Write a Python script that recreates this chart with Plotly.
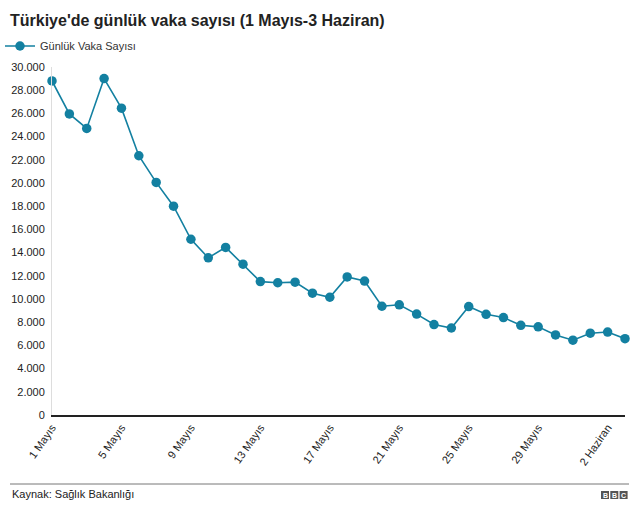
import plotly.graph_objects as go

# Data
dates = [f"{d} Mayıs" for d in range(1, 32)] + [f"{d} Haziran" for d in range(1, 4)]
cases = [28800, 25950, 24700, 29000, 26450, 22350, 20050, 18000, 15150, 13550,
         14450, 13000, 11500, 11400, 11450, 10500, 10150, 11900, 11550, 9375,
         9500, 8700, 7800, 7500, 9350, 8680, 8400, 7730, 7600, 6900,
         6450, 7050, 7150, 6580]
series_name = "Günlük Vaka Sayısı"
title_text = "Türkiye'de günlük vaka sayısı (1 Mayıs-3 Haziran)"
source_text = "Kaynak: Sağlık Bakanlığı"
y_tickvals = list(range(0, 30001, 2000))
y_ticktext = [f"{v:,}".replace(",", ".") for v in y_tickvals]
x_tick_idx = list(range(0, 34, 4))

x = list(range(len(cases)))
color = "#1380A1"
font = "Liberation Sans, Arial, Helvetica, sans-serif"

fig = go.Figure()
fig.add_trace(go.Scatter(
    x=x, y=cases, mode="lines+markers", name=series_name,
    line=dict(color=color, width=1.6),
    marker=dict(color=color, size=9.5),
    cliponaxis=False,
    text=dates, hovertemplate="%{text}: %{y}<extra></extra>",
))

W, H = 640, 513
L, R, T, B = 52, 15, 67, 98
pw = W - L - R
ph = H - T - B

fig.update_layout(
    width=W, height=H,
    margin=dict(l=L, r=R, t=T, b=B, autoexpand=False),
    paper_bgcolor="white", plot_bgcolor="white",
    font=dict(family=font, color="#222222", size=11),
    title=dict(text=f"<b>{title_text}</b>", x=10 / W, xref="container", xanchor="left",
               y=1 - 20 / H, yref="container", yanchor="middle",
               font=dict(size=16, color="#222222", family=font)),
    showlegend=True,
    legend=dict(orientation="h", x=-6 / W, xref="container", xanchor="left",
                y=1 - 46 / H, yref="container", yanchor="middle",
                font=dict(size=11, color="#333333"), itemwidth=30,
                bgcolor="rgba(0,0,0,0)"),
    xaxis=dict(range=[0, len(cases) - 1], tickvals=x_tick_idx,
               ticktext=[dates[i] for i in x_tick_idx], tickangle=-55,
               showgrid=False, zeroline=False, showline=True,
               linecolor="#222222", linewidth=2, ticks="",
               automargin=False,
               tickfont=dict(size=11, color="#222222"), fixedrange=True),
    yaxis=dict(range=[0, 30000], tickvals=y_tickvals, ticktext=y_ticktext,
               showgrid=False, zeroline=False, showline=True,
               linecolor="#dddddd", linewidth=1, ticks="",
               ticklabelstandoff=4, automargin=False,
               tickfont=dict(size=11, color="#222222"), fixedrange=True),
)

# footer rule
def px_x(p):
    return (p - L) / pw

def px_y(p):
    return (H - B - p) / ph

fig.add_shape(type="line", xref="paper", yref="paper",
              x0=px_x(10), x1=px_x(629), y0=px_y(484), y1=px_y(484),
              line=dict(color="#777777", width=1))

fig.add_annotation(text=source_text, xref="paper", yref="paper",
                   x=px_x(10), y=px_y(494), xanchor="left", yanchor="middle",
                   showarrow=False, font=dict(size=11, color="#222222", family=font))

# BBC logo blocks
for i, letter in enumerate(["B", "B", "C"]):
    x0 = 601 + i * 9.3
    fig.add_shape(type="rect", xref="paper", yref="paper",
                  x0=px_x(x0), x1=px_x(x0 + 8), y0=px_y(499), y1=px_y(491),
                  fillcolor="#555555", line=dict(width=0))
    fig.add_annotation(text=f"<b>{letter}</b>", xref="paper", yref="paper",
                       x=px_x(x0 + 4), y=px_y(495), xanchor="center", yanchor="middle",
                       showarrow=False, font=dict(size=7, color="white", family=font))

fig.write_html("out.html", include_plotlyjs=True, config={"displayModeBar": False})
